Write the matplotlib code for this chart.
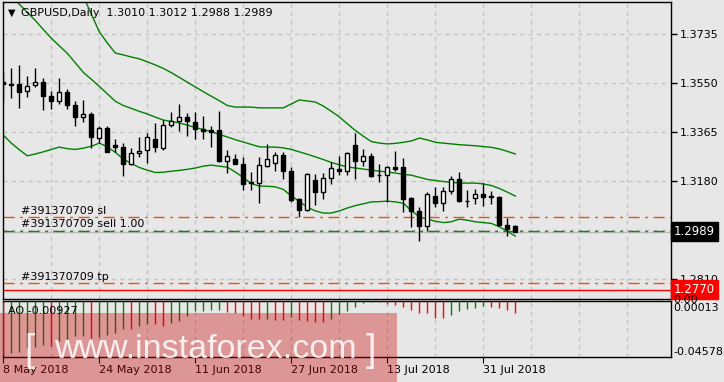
import matplotlib
matplotlib.use("Agg")
import matplotlib.pyplot as plt
import matplotlib.transforms as mtransforms
from matplotlib.patches import Rectangle
import numpy as np

# ---- data (GBPUSD daily, 8 May 2018 .. 6 Aug 2018) ----
opens = [1.3555, 1.3546, 1.3546, 1.3520, 1.3541, 1.3553, 1.3501, 1.3483, 1.3515, 1.3467,
         1.3423, 1.3432, 1.3343, 1.3381, 1.3316, 1.3307, 1.3244, 1.3285, 1.3296, 1.3337,
         1.3306, 1.3390, 1.3408, 1.3420, 1.3403, 1.3376, 1.3373, 1.3373, 1.3257, 1.3263,
         1.3244, 1.3172, 1.3171, 1.3238, 1.3249, 1.3278, 1.3219, 1.3111, 1.3071, 1.3183,
         1.3140, 1.3190, 1.3224, 1.3219, 1.3316, 1.3257, 1.3274, 1.3204, 1.3203, 1.3232,
         1.3232, 1.3115, 1.3066, 1.3011, 1.3123, 1.3098, 1.3141, 1.3186, 1.3106, 1.3115,
         1.3131, 1.3123, 1.3118, 1.3014, 1.3010]
highs = [1.3593, 1.3605, 1.3618, 1.3576, 1.3605, 1.3568, 1.3520, 1.3568, 1.3526, 1.3483,
         1.3486, 1.3442, 1.3388, 1.3388, 1.3339, 1.3322, 1.3303, 1.3345, 1.3362, 1.3398,
         1.3410, 1.3440, 1.3471, 1.3436, 1.3440, 1.3425, 1.3388, 1.3444, 1.3297, 1.3282,
         1.3272, 1.3215, 1.3270, 1.3319, 1.3288, 1.3288, 1.3232, 1.3115, 1.3211, 1.3205,
         1.3209, 1.3251, 1.3274, 1.3291, 1.3360, 1.3300, 1.3287, 1.3244, 1.3237, 1.3293,
         1.3266, 1.3118, 1.3081, 1.3137, 1.3156, 1.3156, 1.3199, 1.3214, 1.3146, 1.3150,
         1.3171, 1.3142, 1.3123, 1.3041, 1.3012]
lows = [1.3483, 1.3494, 1.3457, 1.3498, 1.3534, 1.3448, 1.3452, 1.3470, 1.3452, 1.3389,
        1.3404, 1.3303, 1.3323, 1.3288, 1.3291, 1.3200, 1.3240, 1.3272, 1.3249, 1.3291,
        1.3297, 1.3383, 1.3370, 1.3351, 1.3339, 1.3339, 1.3307, 1.3253, 1.3209, 1.3243,
        1.3146, 1.3146, 1.3098, 1.3234, 1.3218, 1.3188, 1.3102, 1.3045, 1.3067, 1.3089,
        1.3111, 1.3169, 1.3203, 1.3203, 1.3186, 1.3237, 1.3196, 1.3177, 1.3102, 1.3219,
        1.3064, 1.3007, 1.2955, 1.2991, 1.3081, 1.3068, 1.3130, 1.3102, 1.3081, 1.3093,
        1.3087, 1.3093, 1.3011, 1.2972, 1.2988]
closes = [1.3545, 1.3544, 1.3515, 1.3539, 1.3553, 1.3502, 1.3483, 1.3515, 1.3467, 1.3423,
          1.3432, 1.3347, 1.3379, 1.3291, 1.3307, 1.3245, 1.3285, 1.3293, 1.3345, 1.3310,
          1.3391, 1.3408, 1.3420, 1.3405, 1.3377, 1.3368, 1.3365, 1.3257, 1.3274, 1.3243,
          1.3170, 1.3175, 1.3239, 1.3262, 1.3278, 1.3219, 1.3108, 1.3071, 1.3205, 1.3140,
          1.3190, 1.3228, 1.3219, 1.3285, 1.3257, 1.3274, 1.3200, 1.3202, 1.3232, 1.3226,
          1.3113, 1.3068, 1.3011, 1.3130, 1.3098, 1.3142, 1.3186, 1.3106, 1.3103, 1.3130,
          1.3121, 1.3118, 1.3015, 1.3000, 1.2989]

bb_upper = [1.4060, 1.4050, 1.4040, 1.4030, 1.4020, 1.4010, 1.4000, 1.3985, 1.3965, 1.3925,
            1.3877, 1.3810, 1.3743, 1.3701, 1.3663, 1.3656, 1.3648, 1.3641, 1.3630, 1.3618,
            1.3605, 1.3589, 1.3571, 1.3553, 1.3535, 1.3517, 1.3500, 1.3483, 1.3465, 1.3459,
            1.3459, 1.3459, 1.3456, 1.3456, 1.3456, 1.3456, 1.3471, 1.3486, 1.3482, 1.3478,
            1.3463, 1.3443, 1.3422, 1.3396, 1.3371, 1.3349, 1.3329, 1.3323, 1.3320, 1.3322,
            1.3326, 1.3331, 1.3342, 1.3335, 1.3326, 1.3323, 1.3320, 1.3317, 1.3315, 1.3313,
            1.3310, 1.3307, 1.3301, 1.3292, 1.3282]
bb_middle = [1.3909, 1.3878, 1.3847, 1.3817, 1.3786, 1.3752, 1.3719, 1.3690, 1.3662, 1.3626,
             1.3590, 1.3564, 1.3537, 1.3509, 1.3481, 1.3465, 1.3454, 1.3443, 1.3433, 1.3421,
             1.3410, 1.3405, 1.3399, 1.3391, 1.3382, 1.3374, 1.3366, 1.3356, 1.3346, 1.3336,
             1.3327, 1.3318, 1.3309, 1.3308, 1.3308, 1.3305, 1.3299, 1.3290, 1.3281, 1.3271,
             1.3261, 1.3250, 1.3241, 1.3233, 1.3229, 1.3225, 1.3221, 1.3217, 1.3214, 1.3210,
             1.3205, 1.3202, 1.3194, 1.3186, 1.3182, 1.3178, 1.3175, 1.3172, 1.3172, 1.3172,
             1.3169, 1.3163, 1.3152, 1.3138, 1.3123]
bb_lower = [1.3353, 1.3323, 1.3298, 1.3275, 1.3282, 1.3290, 1.3299, 1.3308, 1.3302, 1.3299,
            1.3304, 1.3311, 1.3323, 1.3309, 1.3288, 1.3263, 1.3246, 1.3231, 1.3221, 1.3212,
            1.3213, 1.3217, 1.3220, 1.3224, 1.3229, 1.3236, 1.3240, 1.3236, 1.3232, 1.3214,
            1.3193, 1.3170, 1.3161, 1.3160, 1.3158, 1.3148, 1.3124, 1.3103, 1.3081, 1.3067,
            1.3059, 1.3059, 1.3067, 1.3078, 1.3087, 1.3094, 1.3101, 1.3102, 1.3104, 1.3101,
            1.3096, 1.3068, 1.3045, 1.3036, 1.3028, 1.3023, 1.3026, 1.3036, 1.3032, 1.3026,
            1.3023, 1.3020, 1.3007, 1.2990, 1.2972]

ao = [-0.0443, -0.0427, -0.0413, -0.0385, -0.0377, -0.0360, -0.0366, -0.0330, -0.0310, -0.0288,
      -0.0282, -0.0300, -0.0290, -0.0275, -0.0262, -0.0232, -0.0232, -0.0205, -0.0190, -0.0190,
      -0.0200, -0.0180, -0.0165, -0.0124, -0.0082, -0.0080, -0.0072, -0.0070, -0.0088, -0.0100,
      -0.0122, -0.0143, -0.0150, -0.0148, -0.0152, -0.0155, -0.0130, -0.0152, -0.0166, -0.0168,
      -0.0170, -0.0150, -0.0102, -0.0082, -0.0045, -0.0015, -0.0009, -0.0010, -0.0023, -0.0029,
      -0.0051, -0.0071, -0.0099, -0.0100, -0.0134, -0.0135, -0.0115, -0.0079, -0.0065, -0.0057,
      -0.0038, -0.0051, -0.0057, -0.0071, -0.0093]

date_ticks = [0, 12, 24, 36, 48, 60]
date_labels = ['8 May 2018', '24 May 2018', '11 Jun 2018', '27 Jun 2018', '13 Jul 2018', '31 Jul 2018']
price_ticks = [1.3735, 1.3550, 1.3365, 1.3180, 1.2995, 1.2810]

title = 'GBPUSD,Daily  1.3010 1.3012 1.2988 1.2989'
order_id = '#391370709'
sl_price = 1.3043
sell_price = 1.2993
tp_price = 1.2794
bid_price = 1.2989
red_level = 1.2770
ao_max, ao_min = 0.00013, -0.04578

# ---- layout (pixels of a 724x382 image) ----
W, H = 724, 382
BG = '#e7e7e7'
GRID = '#c4c4c4'
plt.rcParams['font.family'] = ['DejaVu Sans']
plt.rcParams['font.size'] = 8

fig = plt.figure(figsize=(W / 100, H / 100), dpi=100, facecolor=BG)
ax = fig.add_axes([3 / W, 1 - 299 / H, 668 / W, 297 / H], facecolor=BG)
ax2 = fig.add_axes([3 / W, 1 - 357 / H, 668 / W, 56 / H], facecolor=BG)

x = np.arange(len(closes))
xlim = (-0.04, 83.46)

# candles
o = np.array(opens); c = np.array(closes)
up = c >= o
ax.vlines(x, lows, highs, color='black', lw=1, zorder=3)
body_lo = np.minimum(o, c)
body_h = np.maximum(np.abs(c - o), 0.00004)
ax.bar(x, body_h, bottom=body_lo, width=0.5,
       color=np.where(up, 'white', 'black'), edgecolor='black', lw=1, zorder=4)

# bollinger bands
for band in (bb_upper, bb_middle, bb_lower):
    ax.plot(x, band, color='#008000', lw=1, zorder=2)

# order / price lines
ax.axhline(sl_price, color='#e8501a', lw=1, dashes=(8, 4, 2, 4), zorder=2)
ax.axhline(tp_price, color='#e8501a', lw=1, dashes=(8, 4, 2, 4), zorder=2)
ax.axhline(bid_price, color='#bdbdbd', lw=1, zorder=1)
ax.axhline(sell_price, color='#1e7b1e', lw=1, dashes=(8, 4, 2, 4), zorder=2)
ax.axhline(red_level, color='#ff0000', lw=1, zorder=2)

ax.text(2.2, sl_price + 0.0006, order_id + ' sl', fontsize=8, va='bottom', ha='left')
ax.text(2.2, sell_price + 0.0004, order_id + ' sell 1.00', fontsize=8, va='bottom', ha='left')
ax.text(2.2, tp_price + 0.0006, order_id + ' tp', fontsize=8, va='bottom', ha='left')

ax.set_xlim(*xlim)
ax.set_ylim(1.27345, 1.38557)
ax.set_xticks(np.arange(6, 84, 6))
ax.tick_params(axis='x', length=0, labelbottom=False)
ax.yaxis.tick_right()
ax.set_yticks(price_ticks)
ax.set_yticklabels(['%.4f' % p if p != 1.2995 else '' for p in price_ticks])
ax.tick_params(axis='y', length=4, width=1, pad=2, colors='black')
ax.grid(True, color=GRID, ls=(0, (3, 3)), lw=1)

# price boxes on the right
trans = mtransforms.blended_transform_factory(ax.transAxes, ax.transData)
ax.text(1.004, bid_price, '1.2989', transform=trans, color='white', fontsize=8.5,
        va='center', ha='left', bbox=dict(facecolor='black', edgecolor='black', pad=2.2), zorder=10)
ax.text(1.004, red_level, '1.2770', transform=trans, color='white', fontsize=8.5,
        va='center', ha='left', bbox=dict(facecolor='#ff0000', edgecolor='#ff0000', pad=2.2), zorder=10)

fig.text(8 / W, 1 - 13 / H, '\u25bc', fontsize=7, va='center', ha='left')
fig.text(21 / W, 1 - 13 / H, title, fontsize=8, va='center', ha='left')

# awesome oscillator
ao_col = ['#ff0000'] + ['#008000' if ao[i] > ao[i - 1] else '#ff0000' for i in range(1, len(ao))]
ax2.vlines(x, 0, ao, colors=ao_col, lw=1, zorder=3)
ax2.axhline(0, color=GRID, ls=(0, (3, 3)), lw=1)
ax2.set_xlim(*xlim)
ax2.set_ylim(ao_min, ao_max)
ax2.set_xticks(np.arange(6, 84, 6), minor=True)
ax2.grid(True, which='minor', axis='x', color=GRID, ls=(0, (3, 3)), lw=1)
ax2.set_xticks(date_ticks)
ax2.set_xticklabels(date_labels, ha='left')
ax2.grid(True, which='major', axis='x', color=GRID, ls=(0, (3, 3)), lw=1)
ax2.tick_params(axis='x', which='major', length=4, pad=1.5)
ax2.tick_params(axis='x', which='minor', length=0)
ax2.yaxis.tick_right()
ax2.set_yticks([])
ax2.text(1.004, 1.02, '0.00', transform=ax2.transAxes, va='center', ha='left', fontsize=8)
ax2.text(1.004, 0.97, '0.00013', transform=ax2.transAxes, va='top', ha='left', fontsize=8)
ax2.text(1.004, 0.0, '-0.04578', transform=ax2.transAxes, va='bottom', ha='left', fontsize=8)
ax2.text(0.008, 0.82, 'AO -0.00927', transform=ax2.transAxes, va='center', ha='left', fontsize=8)

for a in (ax, ax2):
    for s in a.spines.values():
        s.set_color('black')
        s.set_linewidth(1)

# watermark band
fig.add_artist(Rectangle((0, 0), 397 / W, 69 / H, transform=fig.transFigure,
                         facecolor='#c80000', alpha=0.35, edgecolor='none', zorder=20))
fig.text(24 / W, 1 - 361 / H, '[', fontsize=27, color='white', alpha=0.85,
         va='baseline', ha='left', family='Liberation Sans', zorder=21)
fig.text(54 / W, 1 - 357.5 / H, 'www.instaforex.com', fontsize=24.5, color='white', alpha=0.85,
         va='baseline', ha='left', family='Liberation Sans', zorder=21)
fig.text(366 / W, 1 - 361 / H, ']', fontsize=27, color='white', alpha=0.85,
         va='baseline', ha='left', family='Liberation Sans', zorder=21)

fig.savefig('out.png', dpi=100, facecolor=BG)
